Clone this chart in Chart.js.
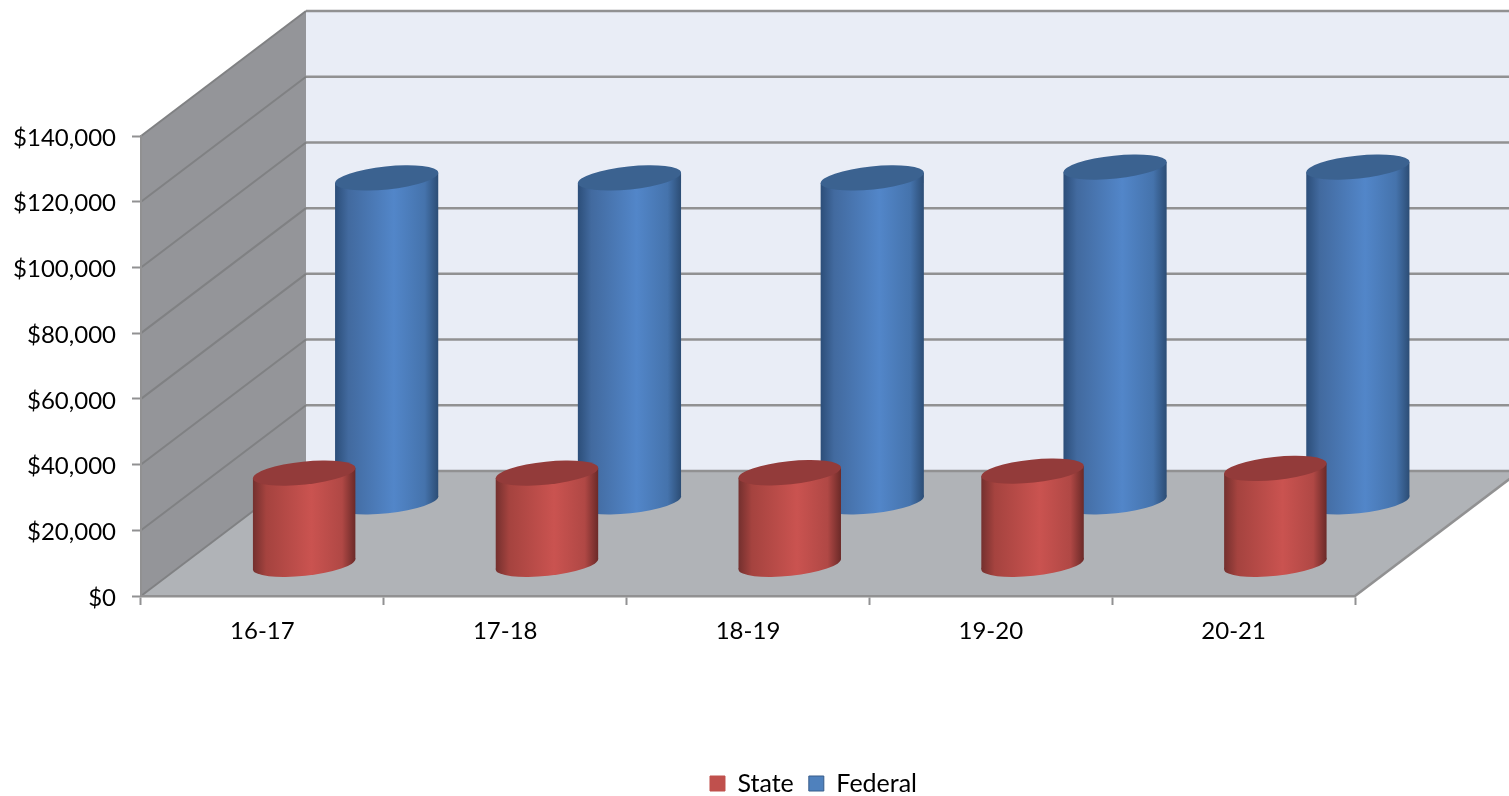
<!DOCTYPE html>
<html>
<head>
<meta charset="utf-8">
<title>State and Federal</title>
<script src="https://cdn.jsdelivr.net/npm/chart.js@4"></script>
<style>
	html, body { margin: 0; padding: 0; background: #fff; overflow: hidden; height: 796px; }
	#box { width: 1509px; height: 806px; position: relative; }
</style>
</head>
<body>
<div id="box"><canvas id="fundingChart"></canvas></div>
<script>
const categories = ["16-17", "17-18", "18-19", "19-20", "20-21"];
const stateValues = [27900, 27900, 28000, 28500, 29300];
const federalValues = [98700, 98700, 98700, 102000, 102000];

// how far the floor runs back, in pixels
const DEPTH_X = 165;
const DEPTH_Y = 125;
const GRID_COLOR = "#919192";
const SIDE_GRID_COLOR = "#808183";
const TILT = -6 * Math.PI / 180;
const CAP_RY = 11.5;
const CYLINDER_NUDGE = 0.5;
const LEGEND_SHIFT = 136;

const seriesStyles = [
	{ stops: ["#74302e", "#a5433f", "#ca5350", "#b04845", "#6b2a28"], cap: "#933b3a" },
	{ stops: ["#2c4e79", "#426a9f", "#5286c9", "#4573ac", "#2c4d75"], cap: "#3b6290" }
];

// ✅ walls and floor behind the bars
const wallsPlugin = {
	id: "wallsPlugin",
	beforeDraw(chart) {
		const { ctx, chartArea, scales } = chart;
		const { left, right, bottom } = chartArea;
		const topY = scales.y.getPixelForValue(140000);

		ctx.save();
		ctx.fillStyle = "#e9edf6";
		ctx.fillRect(left + DEPTH_X, topY - DEPTH_Y, right - left, bottom - topY);

		ctx.fillStyle = "#949599";
		ctx.beginPath();
		ctx.moveTo(left, bottom);
		ctx.lineTo(left, topY);
		ctx.lineTo(left + DEPTH_X, topY - DEPTH_Y);
		ctx.lineTo(left + DEPTH_X, bottom - DEPTH_Y);
		ctx.closePath();
		ctx.fill();

		ctx.fillStyle = "#b0b3b7";
		ctx.beginPath();
		ctx.moveTo(left, bottom);
		ctx.lineTo(right, bottom);
		ctx.lineTo(right + DEPTH_X, bottom - DEPTH_Y);
		ctx.lineTo(left + DEPTH_X, bottom - DEPTH_Y);
		ctx.closePath();
		ctx.fill();

		scales.y.ticks.forEach((tick) => {
			const y = scales.y.getPixelForValue(tick.value);
			ctx.strokeStyle = GRID_COLOR;
			ctx.lineWidth = 2.5;
			ctx.beginPath();
			ctx.moveTo(left + DEPTH_X, y - DEPTH_Y);
			ctx.lineTo(right + DEPTH_X, y - DEPTH_Y);
			ctx.stroke();
			ctx.strokeStyle = SIDE_GRID_COLOR;
			ctx.lineWidth = 2;
			ctx.beginPath();
			ctx.moveTo(left, y);
			ctx.lineTo(left + DEPTH_X, y - DEPTH_Y);
			ctx.stroke();
		});

		ctx.strokeStyle = GRID_COLOR;
		ctx.lineWidth = 2.5;
		ctx.beginPath();
		ctx.moveTo(right, bottom);
		ctx.lineTo(right + DEPTH_X, bottom - DEPTH_Y);
		ctx.stroke();
		ctx.restore();
	}
};

// ✅ bars are drawn as cylinders, from the bar positions the library worked out
const cylinderPlugin = {
	id: "cylinderPlugin",
	beforeDatasetDraw(chart, args) {
		const { ctx } = chart;
		const style = seriesStyles[args.index];
		// State sits a quarter of the way back, Federal three quarters
		const shift = (args.index + 0.5) / 2;

		args.meta.data.forEach((bar) => {
			const cx = bar.x + DEPTH_X * shift + CYLINDER_NUDGE;
			const topY = bar.y - DEPTH_Y * shift;
			const baseY = bar.base - DEPTH_Y * shift;
			const halfW = bar.width / 2;
			const rx = Math.sqrt((halfW * halfW - Math.pow(CAP_RY * Math.sin(TILT), 2)) / Math.pow(Math.cos(TILT), 2));
			const t = Math.atan2(-CAP_RY * Math.sin(TILT), rx * Math.cos(TILT));
			const edgeY = rx * Math.cos(t) * Math.sin(TILT) + CAP_RY * Math.sin(t) * Math.cos(TILT);

			const grad = ctx.createLinearGradient(cx - halfW, 0, cx + halfW, 0);
			[0, 0.13, 0.57, 0.87, 1].forEach((pos, i) => grad.addColorStop(pos, style.stops[i]));

			ctx.save();
			ctx.fillStyle = grad;
			ctx.beginPath();
			ctx.ellipse(cx, baseY, rx, CAP_RY, TILT, 0, Math.PI * 2);
			ctx.fill();
			ctx.beginPath();
			ctx.moveTo(cx - halfW, topY - edgeY);
			ctx.lineTo(cx + halfW, topY + edgeY);
			ctx.lineTo(cx + halfW, baseY + edgeY);
			ctx.lineTo(cx - halfW, baseY - edgeY);
			ctx.closePath();
			ctx.fill();
			ctx.fillStyle = style.cap;
			ctx.beginPath();
			ctx.ellipse(cx, topY, rx, CAP_RY, TILT, 0, Math.PI * 2);
			ctx.fill();
			ctx.restore();
		});
		return false;
	}
};

// the legend centres on the chart without the right padding, so move it over
const legendShiftPlugin = {
	id: "legendShiftPlugin",
	afterLayout(chart) {
		chart.legend.left += LEGEND_SHIFT;
		chart.legend.right += LEGEND_SHIFT;
	}
};

const labelFont = { family: "Lato", size: 24 };

const fundingChart = new Chart(document.getElementById("fundingChart").getContext("2d"), {
	type: "bar",
	data: {
		labels: categories,
		datasets: [
			{
				label: "State",
				data: stateValues,
				backgroundColor: "#c0504d",
				borderColor: "#c0504d",
				borderWidth: 1,
				grouped: false,
				categoryPercentage: 1,
				barPercentage: 0.422
			},
			{
				label: "Federal",
				data: federalValues,
				backgroundColor: "#4f81bd",
				borderColor: "#385d8a",
				borderWidth: 1,
				grouped: false,
				categoryPercentage: 1,
				barPercentage: 0.425
			}
		]
	},
	options: {
		responsive: true,
		maintainAspectRatio: false,
		animation: false,
		layout: { padding: { top: 136, right: 154, left: 0, bottom: 0 } },
		scales: {
			x: {
				grid: { drawOnChartArea: false, tickLength: 9, tickColor: GRID_COLOR, tickWidth: 2 },
				border: { color: GRID_COLOR, width: 2.5 },
				ticks: { color: "#000", font: labelFont, padding: 12, maxRotation: 0 },
				afterFit(scale) { scale.height = 160; }
			},
			y: {
				min: 0,
				max: 140000,
				grid: { drawOnChartArea: false, tickLength: 9, tickColor: GRID_COLOR, tickWidth: 2 },
				border: { color: GRID_COLOR, width: 2 },
				ticks: {
					color: "#000",
					font: labelFont,
					padding: 16,
					labelOffset: 2,
					stepSize: 20000,
					callback: (value) => "$" + value.toLocaleString("en-US")
				},
				afterFit(scale) { scale.width = 141; }
			}
		},
		plugins: {
			legend: {
				display: true,
				position: "bottom",
				labels: { color: "#000", font: { family: "Lato", size: 25 }, boxWidth: 15, boxHeight: 15, padding: 15 }
			},
			tooltip: { enabled: false }
		}
	},
	plugins: [wallsPlugin, cylinderPlugin, legendShiftPlugin]
});
</script>
</body>
</html>
